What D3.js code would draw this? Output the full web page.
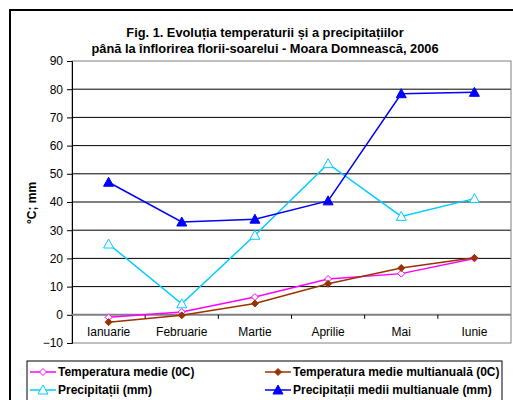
<!DOCTYPE html>
<html><head><meta charset="utf-8">
<script src="https://cdn.jsdelivr.net/npm/d3@7"></script>
<style>body{margin:0;background:#fff}svg{display:block;font-family:"Liberation Sans",Arial,sans-serif}</style>
</head><body>
<svg id="c" width="513" height="400"></svg>
<script>
const categories = ["Ianuarie","Februarie","Martie","Aprilie","Mai","Iunie"];
const tempMedie = [-0.9, 1.0, 6.3, 12.7, 14.6, 20.0];
const tempMulti = [-2.6, -0.2, 4.0, 11.0, 16.6, 20.2];
const precip = [25.1, 3.9, 28.2, 53.6, 34.9, 41.2];
const precipMulti = [47.0, 32.9, 33.9, 40.4, 78.4, 78.9];
const yTicks = [-10,0,10,20,30,40,50,60,70,80,90];
const titleLines = ["Fig. 1. Evoluția temperaturii și a precipitațiilor","până la înflorirea florii-soarelui - Moara Domnească, 2006"];
const yLabel = "°C; mm";

const series = [
  {name:"Temperatura medie (0C)", values:tempMedie, color:"#ff00ff", marker:"diamond", fill:"#fff", w:1.5},
  {name:"Temperatura medie multianuală (0C)", values:tempMulti, color:"#993300", marker:"diamond", fill:"#993300", w:1.5},
  {name:"Precipitații (mm)", values:precip, color:"#00ccff", marker:"triangle", fill:"#fff", w:1.5},
  {name:"Precipitații medii multianuale (mm)", values:precipMulti, color:"#0000ff", marker:"triangle", fill:"#0000ff", w:1.5}
];

const svg = d3.select("#c");
svg.append("rect").attr("x",10).attr("y",10).attr("width",520).attr("height",400)
  .attr("fill","#fff").attr("stroke","#000").attr("stroke-width",2);

const L=72, R=511, T=61, B=343;
const x = d3.scaleBand().domain(categories).range([L,R]);
const y = d3.scaleLinear().domain([-10,90]).range([B,T]);

svg.append("text").attr("x",265).attr("text-anchor","middle").attr("font-weight","bold").attr("font-size",12.8)
  .selectAll("tspan").data(titleLines).join("tspan").attr("x",265).attr("y",(d,i)=>37+i*16).text(d=>d);

svg.append("g").selectAll("line").data(yTicks.filter(d=>d>0&&d<90)).join("line")
  .attr("x1",L).attr("x2",R).attr("y1",d=>y(d)).attr("y2",d=>y(d)).attr("stroke","#000").attr("stroke-width",1);
svg.append("rect").attr("x",L).attr("y",T).attr("width",R-L).attr("height",B-T)
  .attr("fill","none").attr("stroke","#808080").attr("stroke-width",1);

const yAxis = svg.append("g").attr("transform",`translate(${L},0)`)
  .call(d3.axisLeft(y).tickValues(yTicks).tickSize(5).tickPadding(4));
yAxis.select(".domain").attr("stroke","#000");
yAxis.selectAll("text").attr("font-size",12).attr("font-family","Liberation Sans, Arial").attr("fill","#000");

const xAxisG = svg.append("g").attr("transform",`translate(0,${y(0)})`);
xAxisG.append("line").attr("x1",L).attr("x2",R).attr("stroke","#808080").attr("stroke-width",2);
xAxisG.selectAll("line.tk").data(categories.slice(1)).join("line").attr("class","tk")
  .attr("x1",d=>x(d)).attr("x2",d=>x(d)).attr("y1",0).attr("y2",4).attr("stroke","#000");
xAxisG.selectAll("text").data(categories).join("text")
  .attr("x",d=>x(d)+x.bandwidth()/2).attr("y",21).attr("text-anchor","middle").attr("font-size",12).text(d=>d);

svg.append("text").attr("transform","translate(36,203) rotate(-90)").attr("text-anchor","middle")
  .attr("font-weight","bold").attr("font-size",12).text(yLabel);

const cx = d=>x(d)+x.bandwidth()/2;
function drawMarker(g, type, cxv, cyv, s) {
  if (type==="diamond") {
    g.append("path").attr("d",`M${cxv},${cyv-3.5}L${cxv+3.5},${cyv}L${cxv},${cyv+3.5}L${cxv-3.5},${cyv}Z`)
      .attr("fill",s.fill).attr("stroke",s.color).attr("stroke-width",1);
  } else {
    g.append("path").attr("d",`M${cxv},${cyv-5}L${cxv+5},${cyv+4}L${cxv-5},${cyv+4}Z`)
      .attr("fill",s.fill).attr("stroke",s.color).attr("stroke-width",1);
  }
}
const line = d3.line().x((d,i)=>cx(categories[i])).y(d=>y(d));
series.forEach(s=>{
  const g = svg.append("g");
  g.append("path").attr("d",line(s.values)).attr("fill","none").attr("stroke",s.color).attr("stroke-width",s.w);
  s.values.forEach((v,i)=>drawMarker(g,s.marker,cx(categories[i]),y(v),s));
});

svg.append("rect").attr("x",27).attr("y",361).attr("width",475).attr("height",60)
  .attr("fill","#fff").attr("stroke","#000").attr("stroke-width",1);
const legPos = [[30,372],[265,372],[30,390],[265,390]];
series.forEach((s,i)=>{
  const [lx,ly]=legPos[i];
  const g=svg.append("g");
  g.append("line").attr("x1",lx).attr("x2",lx+26).attr("y1",ly).attr("y2",ly).attr("stroke",s.color).attr("stroke-width",s.w);
  drawMarker(g,s.marker,lx+13,ly,s);
  g.append("text").attr("x",lx+28).attr("y",ly+4).attr("font-weight","bold").attr("font-size",12).text(s.name);
});
</script>
</body></html>
